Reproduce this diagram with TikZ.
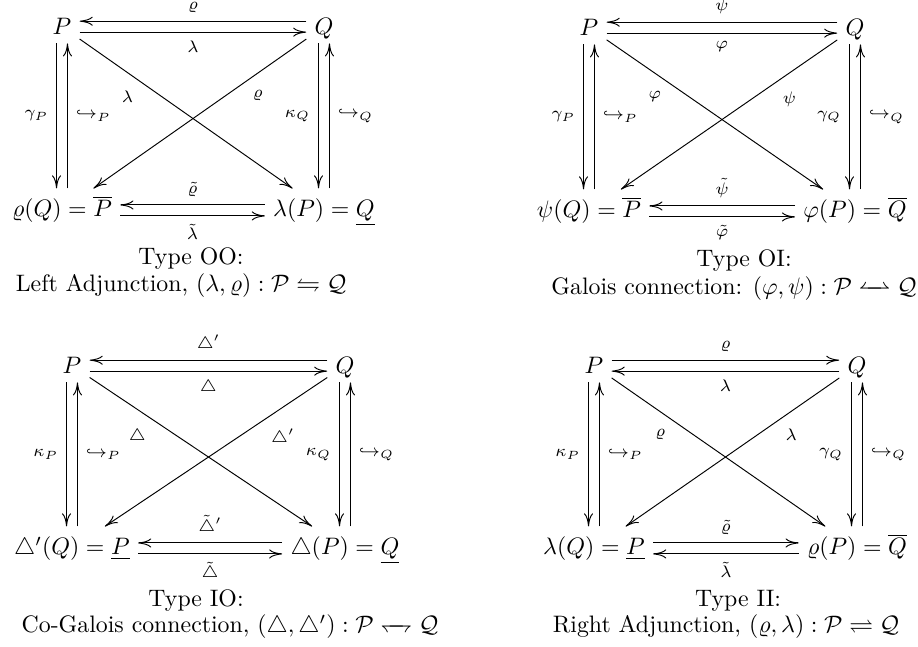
\documentclass[tikz,border=0pt]{standalone}
\usepackage{amsmath,amssymb}
\usepackage{tikz}
\usetikzlibrary{arrows.meta}

\begin{document}
\begin{tikzpicture}[
  x=0.42pt, y=-0.42pt,
  >={Computer Modern Rightarrow[length=5.5pt, width=3.8pt]},
  obj/.style={anchor=base, inner sep=3.3pt, text height=7pt, text depth=0pt},
  low/.style={anchor=base, inner sep=3.3pt, text height=8.5pt, text depth=3pt},
  lbl/.style={font=\scriptsize, inner sep=3.3pt},
  capline/.style={anchor=base},
]
\useasboundingbox (0,0) rectangle (918,647);

% Type OO
\node[obj] (p1) at (62,35) {$P$};
\node[obj] (q1) at (324,35) {$Q$};
\node[low] (l1) at (62,217) {$\varrho(Q) = \overline{P}$};
\node[low] (r1) at (324,217) {$\lambda(P) = \underline{Q}$};
\draw[->] ([yshift=2.3pt]q1.west) -- node[lbl, above] {$\varrho$} ([yshift=2.3pt]p1.east);
\draw[->] ([yshift=-2.3pt]p1.east) -- node[lbl, below] {$\lambda$} ([yshift=-2.3pt]q1.west);
\draw[->] ([yshift=2.3pt]r1.west) -- node[lbl, above] {$\tilde\varrho$} ([yshift=2.3pt]l1.east);
\draw[->] ([yshift=-2.3pt]l1.east) -- node[lbl, below] {$\tilde\lambda$} ([yshift=-2.3pt]r1.west);
\draw[->] ([xshift=-2.3pt]p1.south) -- node[lbl, left] {$\gamma_P$} ([xshift=-2.3pt]l1.north);
\draw[->] ([xshift=2.3pt]l1.north) -- node[lbl, right] {$\hookrightarrow_P$} ([xshift=2.3pt]p1.south);
\draw[->] ([xshift=-2.3pt]q1.south) -- node[lbl, left] {$\kappa_Q$} ([xshift=-2.3pt]r1.north);
\draw[->] ([xshift=2.3pt]r1.north) -- node[lbl, right] {$\hookrightarrow_Q$} ([xshift=2.3pt]q1.south);
\draw[->] (p1) -- node[lbl, pos=0.29, below left] {$\lambda$} (r1);
\draw[->] (q1) -- node[lbl, pos=0.29, below right] {$\varrho$} (l1);
\node[capline] (t1) at (191,265) {Type OO:};
\node[capline] (c1) at (181,292) {Left Adjunction, $(\lambda,\varrho):\mathcal{P}\leftrightharpoons\mathcal{Q}$};

% Type OI
\node[obj] (p2) at (589,36) {$P$};
\node[obj] (q2) at (855,36) {$Q$};
\node[low] (l2) at (589,218) {$\psi(Q) = \overline{P}$};
\node[low] (r2) at (855,218) {$\varphi(P) = \overline{Q}$};
\draw[->] ([yshift=2.3pt]q2.west) -- node[lbl, above] {$\psi$} ([yshift=2.3pt]p2.east);
\draw[->] ([yshift=-2.3pt]p2.east) -- node[lbl, below] {$\varphi$} ([yshift=-2.3pt]q2.west);
\draw[->] ([yshift=2.3pt]r2.west) -- node[lbl, above] {$\tilde\psi$} ([yshift=2.3pt]l2.east);
\draw[->] ([yshift=-2.3pt]l2.east) -- node[lbl, below] {$\tilde\varphi$} ([yshift=-2.3pt]r2.west);
\draw[->] ([xshift=-2.3pt]p2.south) -- node[lbl, left] {$\gamma_P$} ([xshift=-2.3pt]l2.north);
\draw[->] ([xshift=2.3pt]l2.north) -- node[lbl, right] {$\hookrightarrow_P$} ([xshift=2.3pt]p2.south);
\draw[->] ([xshift=-2.3pt]q2.south) -- node[lbl, left] {$\gamma_Q$} ([xshift=-2.3pt]r2.north);
\draw[->] ([xshift=2.3pt]r2.north) -- node[lbl, right] {$\hookrightarrow_Q$} ([xshift=2.3pt]q2.south);
\draw[->] (p2) -- node[lbl, pos=0.29, below left] {$\varphi$} (r2);
\draw[->] (q2) -- node[lbl, pos=0.29, below right] {$\psi$} (l2);
\node[capline] (t2) at (744,267) {Type OI:};
\node[capline] (c2) at (734,295) {Galois connection: $(\varphi,\psi):\mathcal{P}\mathrel{\leftharpoonup\mkern-12mu\rightharpoonup}\mathcal{Q}$};

% Type IO
\node[obj] (p3) at (72,374) {$P$};
\node[obj] (q3) at (345,374) {$Q$};
\node[low] (l3) at (72,555) {$\triangle'(Q) = \underline{P}$};
\node[low] (r3) at (345,555) {$\triangle(P) = \underline{Q}$};
\draw[->] ([yshift=2.3pt]q3.west) -- node[lbl, above] {$\triangle'$} ([yshift=2.3pt]p3.east);
\draw[->] ([yshift=-2.3pt]p3.east) -- node[lbl, below] {$\triangle$} ([yshift=-2.3pt]q3.west);
\draw[->] ([yshift=2.3pt]r3.west) -- node[lbl, above] {$\tilde\triangle'$} ([yshift=2.3pt]l3.east);
\draw[->] ([yshift=-2.3pt]l3.east) -- node[lbl, below] {$\tilde\triangle$} ([yshift=-2.3pt]r3.west);
\draw[->] ([xshift=-2.3pt]p3.south) -- node[lbl, left] {$\kappa_P$} ([xshift=-2.3pt]l3.north);
\draw[->] ([xshift=2.3pt]l3.north) -- node[lbl, right] {$\hookrightarrow_P$} ([xshift=2.3pt]p3.south);
\draw[->] ([xshift=-2.3pt]q3.south) -- node[lbl, left] {$\kappa_Q$} ([xshift=-2.3pt]r3.north);
\draw[->] ([xshift=2.3pt]r3.north) -- node[lbl, right] {$\hookrightarrow_Q$} ([xshift=2.3pt]q3.south);
\draw[->] (p3) -- node[lbl, pos=0.29, below left] {$\triangle$} (r3);
\draw[->] (q3) -- node[lbl, pos=0.29, below right] {$\triangle'$} (l3);
\node[capline] (t3) at (196,607) {Type IO:};
\node[capline] (c3) at (230,633) {Co-Galois connection, $(\triangle,\triangle'):\mathcal{P}\mathrel{\leftharpoondown\mkern-12mu\rightharpoondown}\mathcal{Q}$};

% Type II
\node[obj] (p4) at (594,374) {$P$};
\node[obj] (q4) at (857,374) {$Q$};
\node[low] (l4) at (594,555) {$\lambda(Q) = \underline{P}$};
\node[low] (r4) at (857,555) {$\varrho(P) = \overline{Q}$};
\draw[->] ([yshift=2.3pt]p4.east) -- node[lbl, above] {$\varrho$} ([yshift=2.3pt]q4.west);
\draw[->] ([yshift=-2.3pt]q4.west) -- node[lbl, below] {$\lambda$} ([yshift=-2.3pt]p4.east);
\draw[->] ([yshift=2.3pt]l4.east) -- node[lbl, above] {$\tilde\varrho$} ([yshift=2.3pt]r4.west);
\draw[->] ([yshift=-2.3pt]r4.west) -- node[lbl, below] {$\tilde\lambda$} ([yshift=-2.3pt]l4.east);
\draw[->] ([xshift=-2.3pt]p4.south) -- node[lbl, left] {$\kappa_P$} ([xshift=-2.3pt]l4.north);
\draw[->] ([xshift=2.3pt]l4.north) -- node[lbl, right] {$\hookrightarrow_P$} ([xshift=2.3pt]p4.south);
\draw[->] ([xshift=-2.3pt]q4.south) -- node[lbl, left] {$\gamma_Q$} ([xshift=-2.3pt]r4.north);
\draw[->] ([xshift=2.3pt]r4.north) -- node[lbl, right] {$\hookrightarrow_Q$} ([xshift=2.3pt]q4.south);
\draw[->] (p4) -- node[lbl, pos=0.29, below left] {$\varrho$} (r4);
\draw[->] (q4) -- node[lbl, pos=0.29, below right] {$\lambda$} (l4);
\node[capline] (t4) at (738,607) {Type II:};
\node[capline] (c4) at (726,633) {Right Adjunction, $(\varrho,\lambda):\mathcal{P}\rightleftharpoons\mathcal{Q}$};
\end{tikzpicture}
\end{document}
